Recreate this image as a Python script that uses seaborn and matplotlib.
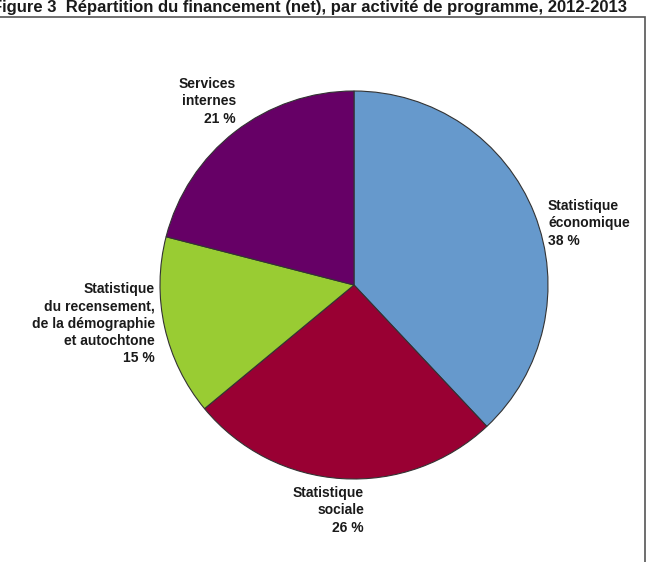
import matplotlib
matplotlib.use("Agg")
import matplotlib.pyplot as plt
import seaborn as sns
from matplotlib.patches import Rectangle

# data
categories = ["Statistique\néconomique", "Statistique\nsociale",
              "Statistique\ndu recensement,\nde la démographie\net autochtone",
              "Services\ninternes"]
shares = [38, 26, 15, 21]
colors = ["#6699CC", "#990033", "#99CC33", "#660066"]
title = "Figure 3  Répartition du financement (net), par activité de programme, 2012-2013"

sns.set_style("white")
plt.rcParams['font.family'] = ['Liberation Sans', 'DejaVu Sans']

W, H = 648, 562
fig = plt.figure(figsize=(W / 100, H / 100), dpi=100)

# axes spans the whole figure; 1 data unit = pie radius in pixels
R = 194.0
cx, cy = 354.0, H - 285.0
ax = fig.add_axes([0, 0, 1, 1])

wedges, _ = ax.pie(shares, colors=sns.color_palette(colors), startangle=90,
                   counterclock=False, radius=1,
                   wedgeprops=dict(edgecolor="#333333", linewidth=0.8))
ax.set_aspect('auto')
ax.set_xlim(-cx / R, (W - cx) / R)
ax.set_ylim(-cy / R, (H - cy) / R)
ax.axis('off')

# label anchors in pixels (x, top y), with alignment
label_pos = [(548, 199, 'left'), (364, 486, 'right'),
             (155, 282, 'right'), (236, 77, 'right')]
for cat, val, (px, py, ha) in zip(categories, shares, label_pos):
    ax.text((px - cx) / R, (H - py - cy) / R, f"{cat}\n{val} %",
            ha=ha, va='top', fontsize=10, fontweight='bold',
            color="#1a1a1a", linespacing=1.3, multialignment=ha)

fig.text(-8 / W, 1 - 12 / H, title, ha='left', va='baseline',
         fontsize=12, fontweight='bold', color="#1a1a1a")

fig.patches.append(Rectangle((-0.01, -0.05), 645 / W + 0.01, 1.05 - 16.5 / H,
                             transform=fig.transFigure, fill=False,
                             edgecolor="#555555", linewidth=1.2))

fig.savefig("out.png", dpi=100)
